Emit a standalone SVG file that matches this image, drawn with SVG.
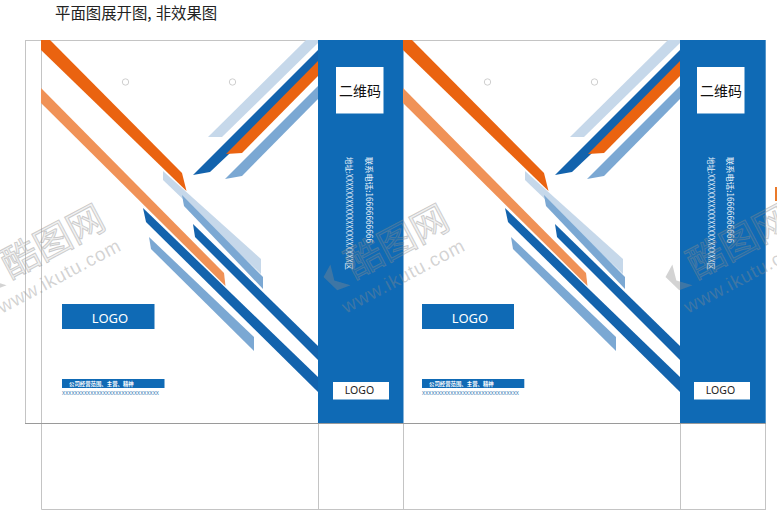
<svg xmlns="http://www.w3.org/2000/svg" width="777" height="518" viewBox="0 0 777 518">
<style>
.band{fill:#0f6ab5}.dark{fill:#1363ad}.mid{fill:#7ba8d3}.pale{fill:#c6d8ea}.or{fill:#ea6310}.lor{fill:#f09257}
.fr{stroke:#c4c4c4;stroke-width:1;fill:none}.frd{stroke:#9a9a9a;stroke-width:1;fill:none}
.hole{fill:#fff;stroke:#cfcfcf;stroke-width:1}
text{font-family:"Noto Sans CJK SC","Noto Sans",sans-serif}
.logo{font-family:"Noto Sans","Noto Sans CJK SC",sans-serif;text-anchor:middle}
.wm{fill:#8c8c8c;fill-opacity:.38}
.wmh{fill:#8c8c8c;fill-opacity:.12;stroke:#8c8c8c;stroke-opacity:.42;stroke-width:1}
.wmu{font-family:"Liberation Sans",sans-serif}
</style>
<rect width="777" height="518" fill="#fff"/>
<text x="55" y="19" font-size="15.4" fill="#222">平面图展开图,<tspan dx="4">非效果图</tspan></text>
<g id="frame">
<path class="fr" d="M25.500 40.500V423.500M41.500 423.500V509.500H766M318.500 423.500V509.500M403.500 423.500V509.500M680.500 423.500V509.500M765.500 423.500V509.500"/>
<path class="fr" d="M25 40.500H680M41.500 40V423"/>
<path class="frd" d="M25 423.500H766"/>
</g>
<g id="panel-1">
<circle class="hole" cx="125.500" cy="82" r="3.200"/><circle class="hole" cx="232.500" cy="82" r="3.200"/>
<polygon class="or" points="41,40 50,40 182,173 186.500,191 41,50"/>
<polygon class="pale" points="163,171 261,259 261,274 163,180"/>
<polygon class="mid" points="182,195 263,277 263,289 184,206"/>
<polygon class="dark" points="193,224 318,346 318,360 195,237"/>
<polygon class="dark" points="143,208 318,377 318,392 146,222"/>
<polygon class="mid" points="149,237 254,337 254,351 151,249"/>
<polygon class="lor" points="41,88 224,273 225.500,286 41,103"/>
<polygon class="pale" points="208,137 222,137 318,43 318,40 306,40"/>
<polygon class="dark" points="193,175 210,172 318,70 318,50"/>
<polygon class="or" points="226,154 242,153 318,76 318,61"/>
<polygon class="mid" points="225,179 242,176 318,99 318,86"/>
<rect class="band" x="318" y="40" width="85.500" height="383"/>
<rect x="336" y="67" width="47.500" height="46.500" fill="#fff"/>
<text x="360" y="95.500" font-size="14" text-anchor="middle" fill="#111">二维码</text>
<text transform="translate(365.500 157) rotate(90)" font-size="8.300" fill="#e8f0f8" textLength="86" lengthAdjust="spacingAndGlyphs">联系电话:16666666666</text>
<text transform="translate(346 157) rotate(90)" font-size="8.300" fill="#e8f0f8" textLength="113" lengthAdjust="spacingAndGlyphs">地址:XXXXXXXXXXXXXXXXXXXXX区</text>
<rect class="band" x="62" y="304" width="92.500" height="25"/>
<text class="logo" x="110" y="322.500" font-size="13" fill="#fff">LOGO</text>
<rect class="band" x="62" y="379" width="102.500" height="9"/>
<text x="69" y="386" font-size="5.400" font-weight="700" fill="#fff">公司经营范围、主营、精神</text>
<text x="62" y="395" font-size="6.500" fill="#3f7fb8" textLength="97" lengthAdjust="spacingAndGlyphs">xxxxxxxxxxxxxxxxxxxxxxxxxxxxxxx</text>
<rect x="333" y="382" width="56" height="17.500" fill="#fff"/>
<text class="logo" x="359.500" y="393.500" font-size="10.500" fill="#222">LOGO</text>
</g>
<g id="panel-2">
<circle class="hole" cx="487.500" cy="82" r="3.200"/><circle class="hole" cx="594.500" cy="82" r="3.200"/>
<g transform="translate(362 0)">
<polygon class="or" points="41,40 50,40 182,173 186.500,191 41,50"/>
<polygon class="pale" points="163,171 261,259 261,274 163,180"/>
<polygon class="mid" points="182,195 263,277 263,289 184,206"/>
<polygon class="dark" points="193,224 318,346 318,360 195,237"/>
<polygon class="dark" points="143,208 318,377 318,392 146,222"/>
<polygon class="mid" points="149,237 254,337 254,351 151,249"/>
<polygon class="lor" points="41,88 224,273 225.500,286 41,103"/>
<polygon class="pale" points="208,137 222,137 318,43 318,40 306,40"/>
<polygon class="dark" points="193,175 210,172 318,70 318,50"/>
<polygon class="or" points="226,154 242,153 318,76 318,61"/>
<polygon class="mid" points="225,179 242,176 318,99 318,86"/>
</g>
<rect class="band" x="680" y="40" width="85.700" height="383"/>
<rect x="697" y="67" width="47.500" height="46.500" fill="#fff"/>
<text x="721" y="95.500" font-size="14" text-anchor="middle" fill="#111">二维码</text>
<text transform="translate(726.500 157) rotate(90)" font-size="8.300" fill="#e8f0f8" textLength="86" lengthAdjust="spacingAndGlyphs">联系电话:16666666666</text>
<text transform="translate(707.500 157) rotate(90)" font-size="8.300" fill="#e8f0f8" textLength="113" lengthAdjust="spacingAndGlyphs">地址:XXXXXXXXXXXXXXXXXXXXX区</text>
<rect class="band" x="422" y="304" width="92" height="25"/>
<text class="logo" x="470" y="322.500" font-size="13" fill="#fff">LOGO</text>
<rect class="band" x="422" y="379" width="102.300" height="9"/>
<text x="429" y="386" font-size="5.400" font-weight="700" fill="#fff">公司经营范围、主营、精神</text>
<text x="422" y="395" font-size="6.500" fill="#3f7fb8" textLength="97" lengthAdjust="spacingAndGlyphs">xxxxxxxxxxxxxxxxxxxxxxxxxxxxxxx</text>
<rect x="694" y="382" width="56" height="17.500" fill="#fff"/>
<text class="logo" x="720.500" y="393.500" font-size="10.500" fill="#222">LOGO</text>
</g>
<rect x="775" y="187" width="2" height="14" fill="#ea7a2a"/>
<g id="watermarks">
<g transform="translate(10 279) rotate(-28)">
<text class="wmh" x="0" y="0" font-size="37">酷图网</text>
<text class="wm wmu" x="-23.500" y="27" font-size="19" textLength="136">www.ikutu.com</text>
<polygon class="wm" points="-26,-16 -14,-24 -18,-8 -6,4 -20,2"/>
</g>
<g transform="translate(354 279) rotate(-28)">
<text class="wmh" x="0" y="0" font-size="37">酷图网</text>
<text class="wm wmu" x="-23.500" y="27" font-size="19" textLength="136">www.ikutu.com</text>
<polygon class="wm" points="-26,-16 -14,-24 -18,-8 -6,4 -20,2"/>
</g>
<g transform="translate(696 279) rotate(-28)">
<text class="wmh" x="0" y="0" font-size="37">酷图网</text>
<text class="wm wmu" x="-23.500" y="27" font-size="19" textLength="136">www.ikutu.com</text>
<polygon class="wm" points="-26,-16 -14,-24 -18,-8 -6,4 -20,2"/>
</g>
</g>
</svg>
